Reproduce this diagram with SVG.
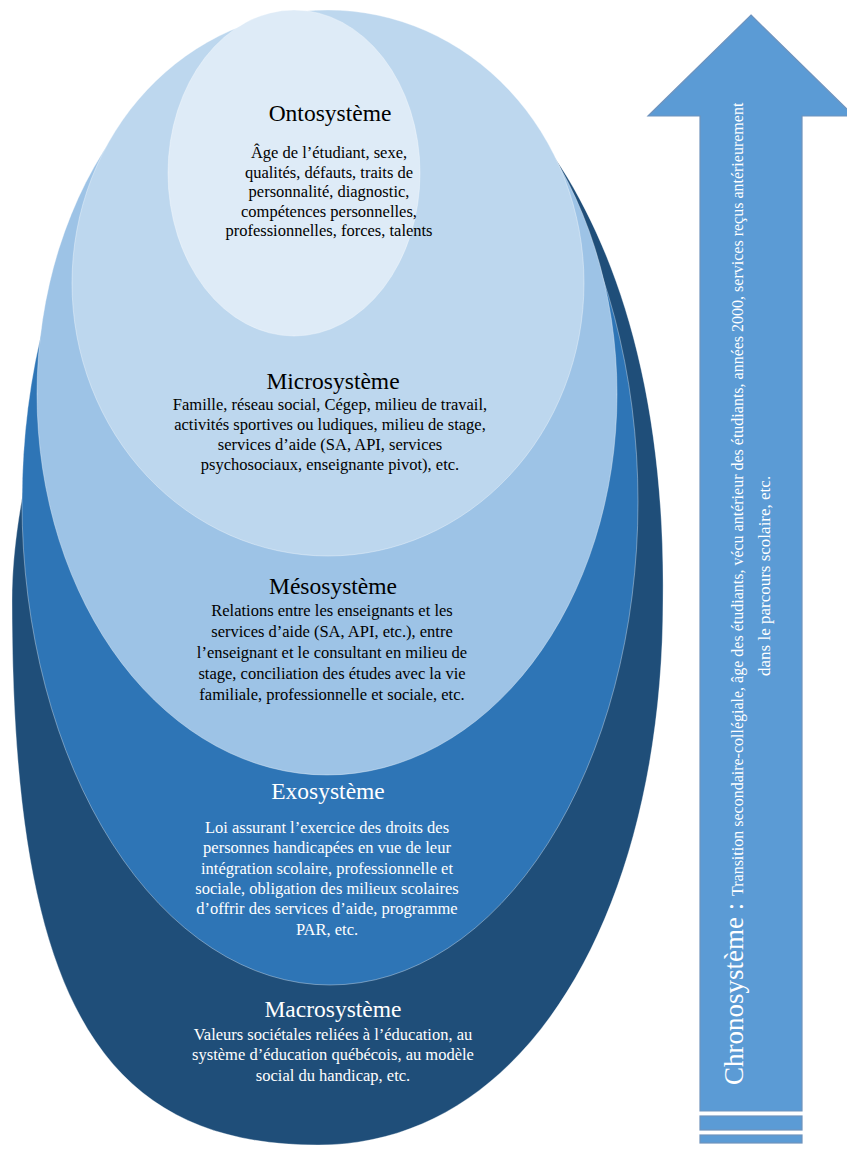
<svg xmlns="http://www.w3.org/2000/svg" width="847" height="1149" viewBox="0 0 847 1149">
<style>
.sh{stroke:#ffffff;stroke-opacity:0.35;stroke-width:1}
.t{font-family:"Liberation Serif","Times New Roman",serif;text-anchor:middle}
.ti{font-size:23.5px}
.b{font-size:16.5px}
.dk{fill:#000000}
.wh{fill:#ffffff}
.ar{fill:#5B9BD5;stroke:#6F93BD;stroke-width:1.2}
.ct{font-family:"Liberation Serif","Times New Roman",serif;fill:#ffffff}
</style>
<rect width="847" height="1149" fill="#ffffff"/>
<g id="macrosysteme">
<path class="sh" d="M338,14 C470,14 668,190 663,600 C663,902 532,1145 318,1145 C98,1145 12,994 12,600 C12,400 165,14 338,14 Z" fill="#1F4E79"/>
<text class="t ti wh" x="333" y="1017">Macrosystème</text>
<text class="t b wh" x="333" y="1040">Valeurs sociétales reliées à l’éducation, au</text>
<text class="t b wh" x="333" y="1060">système d’éducation québécois, au modèle</text>
<text class="t b wh" x="333" y="1081">social du handicap, etc.</text>
</g>
<g id="exosysteme">
<ellipse class="sh" cx="330" cy="502" rx="308" ry="483" fill="#2E75B6"/>
<text class="t ti wh" x="328" y="799">Exosystème</text>
<text class="t b wh" x="327" y="833">Loi assurant l’exercice des droits des</text>
<text class="t b wh" x="327" y="853">personnes handicapées en vue de leur</text>
<text class="t b wh" x="327" y="874">intégration scolaire, professionnelle et</text>
<text class="t b wh" x="327" y="894">sociale, obligation des milieux scolaires</text>
<text class="t b wh" x="327" y="914">d’offrir des services d’aide, programme</text>
<text class="t b wh" x="327" y="935">PAR, etc.</text>
</g>
<g id="mesosysteme">
<ellipse class="sh" cx="327" cy="394" rx="290" ry="381" fill="#9DC3E6"/>
<text class="t ti dk" x="333" y="594">Mésosystème</text>
<text class="t b dk" x="332" y="616">Relations entre les enseignants et les</text>
<text class="t b dk" x="332" y="637">services d’aide (SA, API, etc.), entre</text>
<text class="t b dk" x="332" y="658">l’enseignant et le consultant en milieu de</text>
<text class="t b dk" x="332" y="679">stage, conciliation des études avec la vie</text>
<text class="t b dk" x="332" y="700">familiale, professionnelle et sociale, etc.</text>
</g>
<g id="microsysteme">
<ellipse class="sh" cx="328" cy="283" rx="256" ry="273" fill="#BDD7EE"/>
<text class="t ti dk" x="333" y="389">Microsystème</text>
<text class="t b dk" x="330" y="410">Famille, réseau social, Cégep, milieu de travail,</text>
<text class="t b dk" x="330" y="430">activités sportives ou ludiques, milieu de stage,</text>
<text class="t b dk" x="330" y="450">services d’aide (SA, API, services</text>
<text class="t b dk" x="330" y="470">psychosociaux, enseignante pivot), etc.</text>
</g>
<g id="ontosysteme">
<ellipse class="sh" cx="294" cy="173" rx="126" ry="163" fill="#DEEBF7"/>
<text class="t ti dk" x="330" y="121">Ontosystème</text>
<text class="t b dk" x="329" y="158">Âge de l’étudiant, sexe,</text>
<text class="t b dk" x="329" y="177.5">qualités, défauts, traits de</text>
<text class="t b dk" x="329" y="197">personnalité, diagnostic,</text>
<text class="t b dk" x="329" y="216.5">compétences personnelles,</text>
<text class="t b dk" x="329" y="236">professionnelles, forces, talents</text>
</g>
<g id="chronosysteme">
<polygon class="ar" points="751,15 854,116 802,116 802,1111 700,1111 700,116 648,116"/>
<rect class="ar" x="700" y="1116" width="102" height="14"/>
<rect class="ar" x="700" y="1135" width="102" height="8"/>
<text class="ct" transform="translate(743,1085) rotate(-90)"><tspan font-size="27">Chronosystème : </tspan><tspan font-size="16">Transition secondaire-collégiale,  âge des étudiants, vécu antérieur des étudiants, années 2000, services reçus antérieurement</tspan></text>
<text class="ct" font-size="17" transform="translate(770,676) rotate(-90)">dans le parcours scolaire, etc.</text>
</g>
</svg>
